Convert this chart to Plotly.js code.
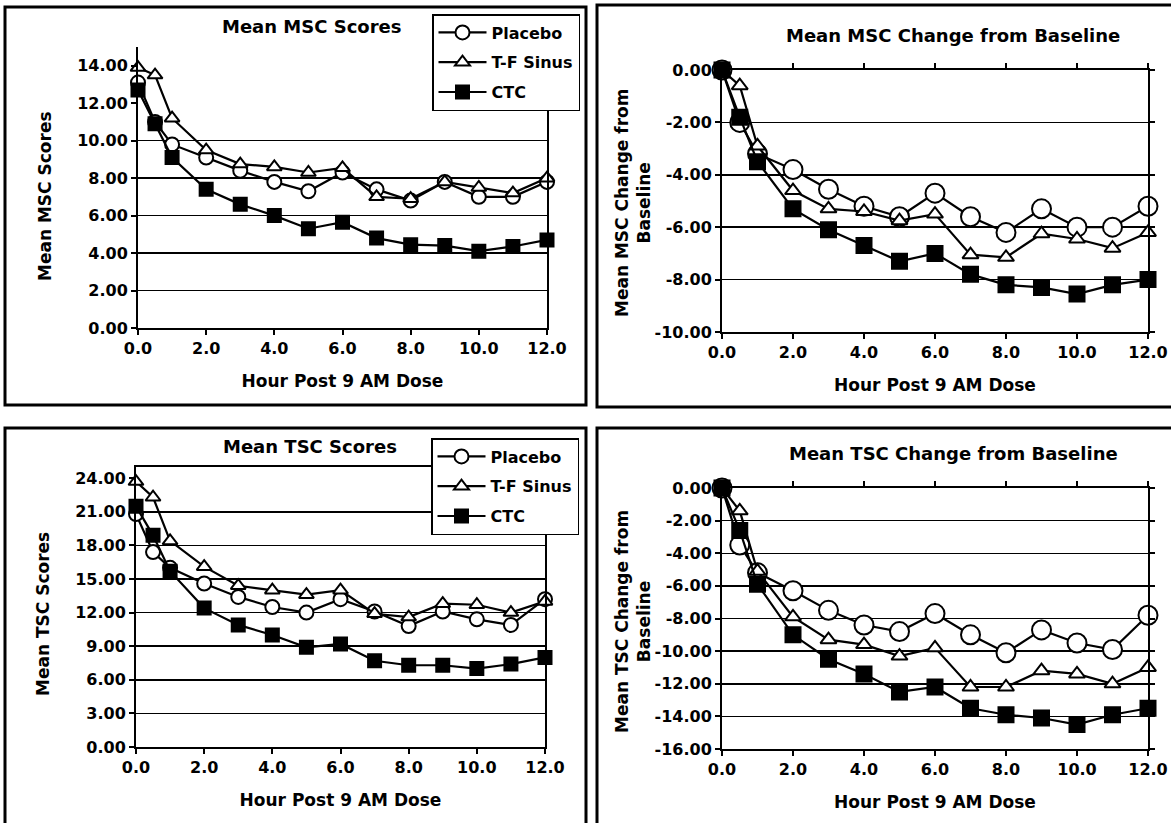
<!DOCTYPE html>
<html>
<head>
<meta charset="utf-8">
<script src="https://cdn.plot.ly/plotly-3.0.1.min.js"></script>
<style>
  html, body { margin: 0; padding: 0; background: #fff; }
  #chart { width: 1171px; height: 823px; }
</style>
</head>
<body>
<div id="chart"></div>
<script>
// ---------- data ----------
const hours = [0, 0.5, 1, 2, 3, 4, 5, 6, 7, 8, 9, 10, 11, 12];
const seriesNames = ["Placebo", "T-F Sinus", "CTC"];

const mscPlacebo = [13.1, 11.0, 9.8, 9.1, 8.4, 7.8, 7.3, 8.3, 7.4, 6.8, 7.8, 7.0, 7.0, 7.8];
const mscTF      = [13.9, 13.5, 11.2, 9.5, 8.75, 8.6, 8.3, 8.55, 7.0, 6.9, 7.8, 7.5, 7.2, 8.0];
const mscCTC     = [12.7, 10.9, 9.1, 7.4, 6.6, 6.0, 5.3, 5.65, 4.8, 4.45, 4.4, 4.1, 4.35, 4.7];

const mscChgPlacebo = [0, -2.0, -3.2, -3.8, -4.55, -5.2, -5.6, -4.7, -5.6, -6.2, -5.3, -6.0, -6.0, -5.2];
const mscChgTF      = [0, -0.6, -2.9, -4.6, -5.3, -5.4, -5.75, -5.5, -7.05, -7.15, -6.25, -6.45, -6.8, -6.2];
const mscChgCTC     = [0, -1.8, -3.5, -5.3, -6.1, -6.7, -7.3, -7.0, -7.8, -8.2, -8.3, -8.55, -8.2, -8.0];

const tscPlacebo = [20.8, 17.4, 16.0, 14.6, 13.4, 12.5, 12.0, 13.2, 12.1, 10.8, 12.1, 11.4, 10.9, 13.2];
const tscTF      = [23.7, 22.3, 18.4, 16.1, 14.4, 14.0, 13.6, 14.0, 11.9, 11.6, 12.8, 12.7, 12.0, 13.0];
const tscCTC     = [21.5, 18.9, 15.7, 12.4, 10.9, 10.0, 8.9, 9.2, 7.7, 7.3, 7.3, 7.0, 7.4, 8.0];

const tscChgPlacebo = [0, -3.5, -5.2, -6.3, -7.5, -8.4, -8.8, -7.7, -9.0, -10.1, -8.7, -9.5, -9.9, -7.8];
const tscChgTF      = [0, -1.4, -5.1, -7.9, -9.3, -9.6, -10.3, -9.8, -12.2, -12.2, -11.2, -11.4, -12.0, -11.0];
const tscChgCTC     = [0, -2.6, -5.9, -9.0, -10.5, -11.4, -12.5, -12.2, -13.5, -13.9, -14.1, -14.5, -13.9, -13.5];

const xTicks      = [0, 2, 4, 6, 8, 10, 12];
const mscTicks    = [0, 2, 4, 6, 8, 10, 12, 14];
const mscChgTicks = [0, -2, -4, -6, -8, -10];
const tscTicks    = [0, 3, 6, 9, 12, 15, 18, 21, 24];
const tscChgTicks = [0, -2, -4, -6, -8, -10, -12, -14, -16];

const titles = {
  msc: "Mean MSC Scores",
  mscChg: "Mean MSC Change from Baseline",
  tsc: "Mean TSC Scores",
  tscChg: "Mean TSC Change from Baseline"
};
const xTitle = "Hour Post 9 AM Dose";
const yTitles = {
  msc: "Mean MSC Scores",
  mscChg: "Mean MSC Change from<br>Baseline",
  tsc: "Mean TSC Scores",
  tscChg: "Mean TSC Change from<br>Baseline"
};

// ---------- helpers ----------
const W = 1171, H = 823;
const fx = p => p / W;
const fy = p => 1 - p / H;
const FONT = "DejaVu Sans, Liberation Sans, Arial, sans-serif";
const black = "#000";
const bold = s => "<b>" + s + "</b>";

const markerStyles = [
  {symbol: "circle", color: "#fff"},
  {symbol: "triangle-up", color: "#fff"},
  {symbol: "square", color: black}
];

function makeTraces(seriesArr, xa, ya, legendName, sizes, show) {
  return seriesArr.map((vals, i) => ({
    x: hours, y: vals, type: "scatter", mode: "lines+markers",
    name: seriesNames[i], xaxis: xa, yaxis: ya,
    legend: legendName, showlegend: show, legendgroup: legendName + i,
    cliponaxis: false,
    line: {color: black, width: 2.2},
    marker: {symbol: markerStyles[i].symbol, color: markerStyles[i].color,
             size: sizes[i], line: {color: black, width: 2}}
  }));
}

const traces = [].concat(
  makeTraces([mscPlacebo, mscTF, mscCTC], "x", "y", "legend", [14, 13, 13], true),
  makeTraces([mscChgPlacebo, mscChgTF, mscChgCTC], "x2", "y2", "legend", [19, 14, 15], false),
  makeTraces([tscPlacebo, tscTF, tscCTC], "x3", "y3", "legend2", [14, 13, 13], true),
  makeTraces([tscChgPlacebo, tscChgTF, tscChgCTC], "x4", "y4", "legend2", [19, 14, 15], false)
);

const tickFont = {family: FONT, size: 16, color: black, weight: "bold"};
const axTitleFont = {family: FONT, size: 17, color: black, weight: "bold"};
const panelTitleFont = {family: FONT, size: 18, color: black, weight: "bold"};

function xAxis(dom, yAnchor, mirror) {
  return {
    domain: dom, anchor: yAnchor, range: [0, 12],
    tickmode: "array", tickvals: xTicks, ticktext: xTicks.map(v => bold(v.toFixed(1))),
    ticks: "outside", ticklen: 5, tickwidth: 2, tickcolor: black,
    ticklabeloverflow: "allow",
    showline: true, linecolor: black, linewidth: 2, mirror: mirror,
    showgrid: false, zeroline: false, tickfont: tickFont,
    title: {text: bold(xTitle), font: axTitleFont, standoff: 18},
    automargin: false, fixedrange: true
  };
}
function yAxis(dom, xAnchor, range, ticks, gridVals, mirror) {
  return {
    domain: dom, anchor: xAnchor, range: range,
    tickmode: "array", tickvals: ticks, ticktext: ticks.map(v => bold(v.toFixed(2))),
    ticks: "outside", ticklen: 5, tickwidth: 2, tickcolor: black,
    ticklabeloverflow: "allow",
    showline: true, linecolor: black, linewidth: 2, mirror: mirror,
    showgrid: false, zeroline: false, tickfont: tickFont,
    minor: {tickmode: "array", tickvals: gridVals, showgrid: true,
            gridcolor: black, gridwidth: 1.5, ticks: ""},
    automargin: false, fixedrange: true
  };
}

function annot(text, px, py, font, angle) {
  return {text: bold(text), x: fx(px), y: fy(py), xref: "paper", yref: "paper",
          xanchor: "center", yanchor: "middle", showarrow: false,
          textangle: angle || 0, font: font};
}

const legendStyle = (px, py) => ({
  x: fx(px), y: fy(py), xanchor: "left", yanchor: "top",
  bgcolor: "#fff", bordercolor: black, borderwidth: 1.5,
  font: {family: FONT, size: 16, color: black, weight: "bold"},
  tracegroupgap: 6, itemwidth: 48
});

const layout = {
  width: W, height: H,
  margin: {l: 0, r: 0, t: 0, b: 0},
  paper_bgcolor: "#fff", plot_bgcolor: "#fff",
  font: {family: FONT, color: black},
  showlegend: true,
  xaxis:  xAxis([fx(138), fx(547)], "y", false),
  yaxis:  yAxis([fy(328), fy(47)], "x", [0, 15], mscTicks, [2, 4, 6, 8, 10], true),
  xaxis2: xAxis([fx(722), fx(1148)], "y2", "ticks"),
  yaxis2: yAxis([fy(332), fy(70)], "x2", [-10, 0], mscChgTicks, [-2, -4, -6, -8], "ticks"),
  xaxis3: xAxis([fx(136), fx(545)], "y3", true),
  yaxis3: yAxis([fy(747), fy(467)], "x3", [0, 25], tscTicks, [3, 6, 9, 12, 15, 18, 21], true),
  xaxis4: xAxis([fx(722), fx(1148)], "y4", "ticks"),
  yaxis4: yAxis([fy(749), fy(488)], "x4", [-16, 0], tscChgTicks, [-2, -4, -6, -8, -10, -12, -14], "ticks"),
  legend: legendStyle(432, 14),
  legend2: legendStyle(431, 438),
  annotations: [
    annot(titles.msc, 312, 27, panelTitleFont),
    annot(titles.mscChg, 953, 35, panelTitleFont),
    annot(titles.tsc, 310, 446, panelTitleFont),
    annot(titles.tscChg, 953, 453, panelTitleFont),
    annot(yTitles.msc, 45, 196, axTitleFont, -90),
    annot(yTitles.mscChg, 633, 203, axTitleFont, -90),
    annot(yTitles.tsc, 43, 614, axTitleFont, -90),
    annot(yTitles.tscChg, 633, 622, axTitleFont, -90)
  ],
  shapes: [
    {type: "rect", xref: "paper", yref: "paper", x0: fx(5), x1: fx(586), y0: fy(405), y1: fy(7), line: {color: black, width: 3}},
    {type: "rect", xref: "paper", yref: "paper", x0: fx(597), x1: fx(1180), y0: fy(407), y1: fy(5), line: {color: black, width: 3}},
    {type: "rect", xref: "paper", yref: "paper", x0: fx(5), x1: fx(586), y0: fy(835), y1: fy(428), line: {color: black, width: 3}},
    {type: "rect", xref: "paper", yref: "paper", x0: fx(597), x1: fx(1180), y0: fy(835), y1: fy(428), line: {color: black, width: 3}}
  ]
};

Plotly.newPlot("chart", traces, layout, {displayModeBar: false, staticPlot: true});
</script>
</body>
</html>
